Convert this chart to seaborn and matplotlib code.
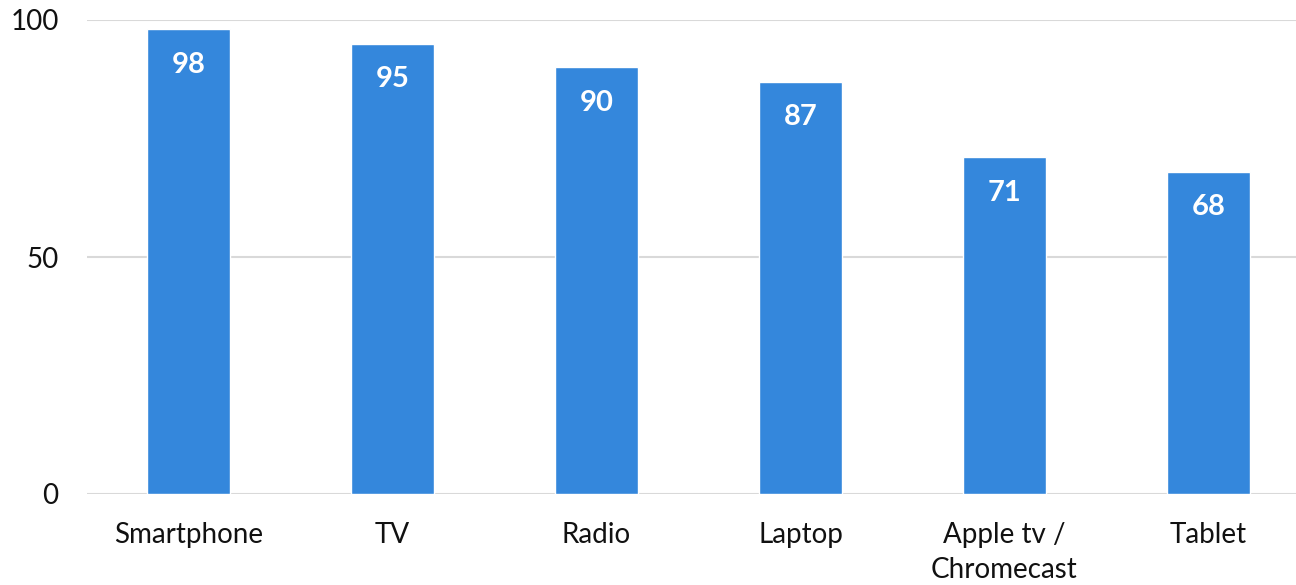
import matplotlib
matplotlib.use("Agg")
import matplotlib.pyplot as plt
import seaborn as sns
import pandas as pd

categories = ["Smartphone", "TV", "Radio", "Laptop", "Apple tv /\nChromecast", "Tablet"]
values = [98, 95, 90, 87, 71, 68]
yticks = [0, 50, 100]

sns.set_theme(style="white")
plt.rcParams['font.family'] = ['Lato', 'DejaVu Sans']

df = pd.DataFrame({"cat": categories, "val": values})

fig = plt.figure(figsize=(12.96, 5.85), dpi=100)
ax = fig.add_axes([86.5/1296, 1-494/585, 1-86.5/1296, (494-20)/585])
sns.barplot(data=df, x="cat", y="val", color="#3487DC", saturation=1, width=0.407, ax=ax, zorder=3)

ax.set_ylim(0, 100)
ax.set_xlim(-0.5, (1296-188.5)/204)
ax.set_yticks(yticks)
ax.yaxis.grid(True, color="#d9d9d9", linewidth=1.5, zorder=0)
ax.set_axisbelow(True)
for s in ax.spines.values():
    s.set_visible(False)
ax.tick_params(axis="both", length=0, labelsize=20, colors="#111111")
ax.tick_params(axis="y", pad=20)
ax.tick_params(axis="x", pad=20)
for lbl in ax.get_xticklabels():
    lbl.set_linespacing(1.45)
ax.set_xlabel("")
ax.set_ylabel("")

for i, v in enumerate(values):
    ax.text(i, v - 7.5, str(v), ha="center", va="center", color="white", fontsize=21, fontweight="bold")

fig.savefig("out.png", dpi=100)
